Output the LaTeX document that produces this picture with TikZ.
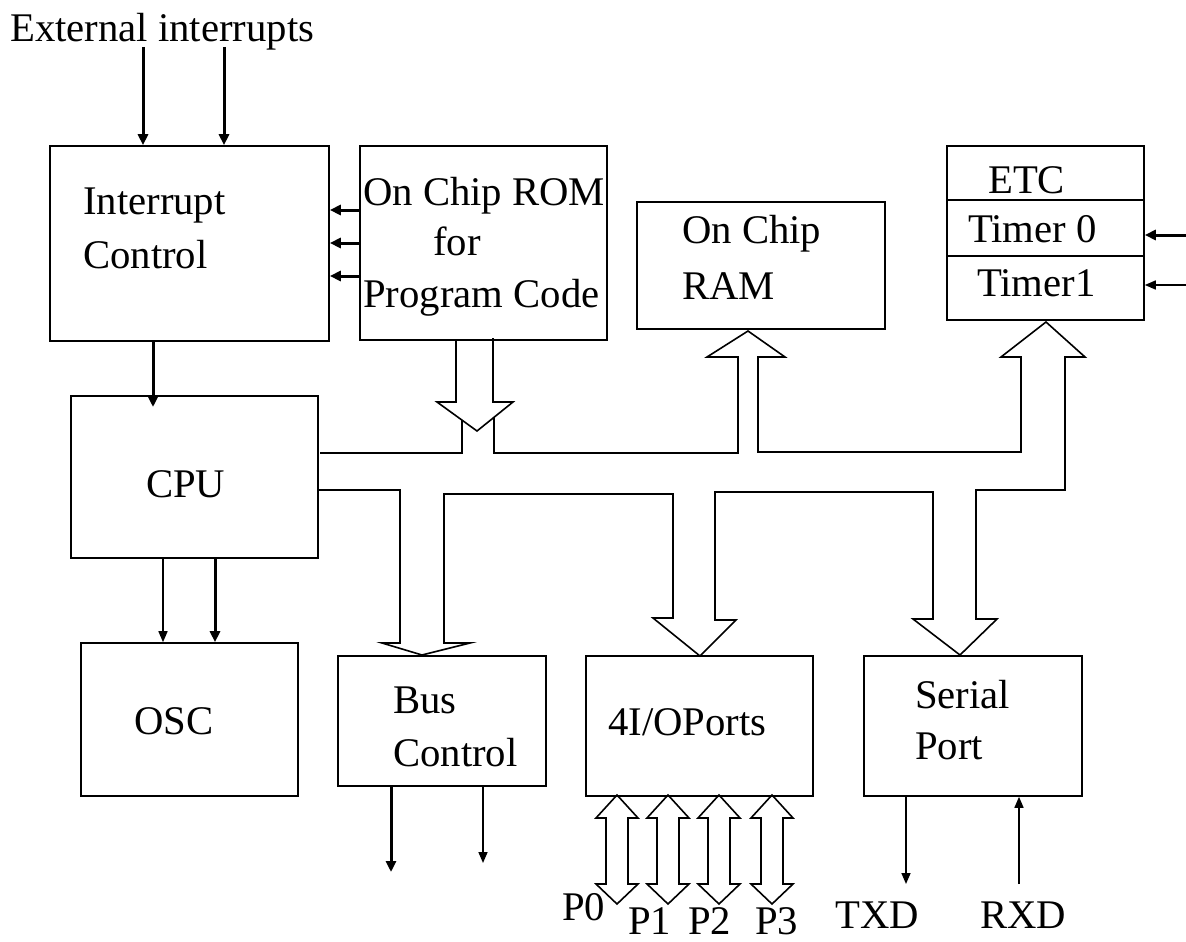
\documentclass[tikz,border=0pt]{standalone}
\usepackage{fontspec}
\setmainfont{Liberation Serif}
\usetikzlibrary{arrows.meta}
\begin{document}
\begin{tikzpicture}[x=1pt,y=-1pt,
  box/.style={draw, line width=1.6pt, inner sep=0pt},
  txt/.style={inner sep=0pt, anchor=base west, font=\fontsize{40.7}{48}\selectfont},
  thinarr/.style={line width=1.6pt, -{Triangle[width=9pt,length=11pt]}},
  thickarr/.style={line width=3pt, -{Triangle[width=10pt,length=11pt]}},
  bus/.style={line width=1.6pt, line join=miter}]
\useasboundingbox (0,0) rectangle (1186,942);
\fill[white] (0,0) rectangle (1186,942);

% boxes
\node[box, minimum width=279pt, minimum height=195pt] (ic) at (189.5,243.5) {};
\node[box, minimum width=247pt, minimum height=194pt] (rom) at (483.5,243) {};
\node[box, minimum width=248pt, minimum height=127pt] (ram) at (761,265.5) {};
\node[box, minimum width=197pt, minimum height=174pt] (etc) at (1045.5,233) {};
\draw[line width=1.6pt] (etc.west |- 0,200) coordinate (d1) -- (etc.east |- d1);
\draw[line width=1.6pt] (etc.west |- 0,256) coordinate (d2) -- (etc.east |- d2);
\node[box, minimum width=247pt, minimum height=162pt] (cpu) at (194.5,477) {};
\node[box, minimum width=217pt, minimum height=153pt] (osc) at (189.5,719.5) {};
\node[box, minimum width=208pt, minimum height=130pt] (bc) at (442,721) {};
\node[box, minimum width=227pt, minimum height=140pt] (io) at (699.5,726) {};
\node[box, minimum width=218pt, minimum height=140pt] (ser) at (973,726) {};

% texts
\node[txt] (ext) at (10,42) {External interrupts};
\node[txt] (ic1) at (83,214) {Interrupt};
\node[txt] (ic2) at (83,268) {Control};
\node[txt] (rom1) at (363,205) {On Chip ROM};
\node[txt] (rom2) at (433,255) {for};
\node[txt] (rom3) at (363,307) {Program Code};
\node[txt] (ram1) at (682,243) {On Chip};
\node[txt] (ram2) at (682,299) {RAM};
\node[txt] (etc1) at (988,193) {ETC};
\node[txt] (t0) at (968,242) {Timer 0};
\node[txt] (t1) at (977,296) {Timer1};
\node[txt] (cput) at (146,497) {CPU};
\node[txt] (osct) at (134,734) {OSC};
\node[txt] (bc1) at (393,713) {Bus};
\node[txt] (bc2) at (393,766) {Control};
\node[txt] (iot) at (608,735) {4I/OPorts};
\node[txt] (ser1) at (915,708) {Serial};
\node[txt] (ser2) at (915,759) {Port};
\node[txt] (p0) at (562,920) {P0};
\node[txt] (p1) at (628,934) {P1};
\node[txt] (p2) at (688,934) {P2};
\node[txt] (p3) at (755,934) {P3};
\node[txt] (txd) at (835,928) {TXD};
\node[txt] (rxd) at (980,928) {RXD};

% external interrupts
\coordinate (e1) at (143,47);
\coordinate (e2) at (224,47);
\draw[thickarr] (e1) -- (e1 |- ic.north);
\draw[thickarr] (e2) -- (e2 |- ic.north);

% ROM -> interrupt control
\foreach \yy/\nm in {210/ra,243/rb,276/rc}{
  \coordinate (\nm) at (rom.west |- 0,\yy);
  \draw[thickarr] (\nm) -- (ic.east |- \nm);
}

% interrupt control -> CPU
\coordinate (icb) at (153,407);
\draw[thickarr] (ic.south -| icb) -- (icb);

% CPU -> OSC
\coordinate (c1) at (163,0);
\coordinate (c2) at (215,0);
\draw[thinarr] (cpu.south -| c1) -- (osc.north -| c1);
\draw[thickarr] (cpu.south -| c2) -- (osc.north -| c2);

% Bus control outputs
\coordinate (b1) at (391,872);
\coordinate (b2) at (483,863);
\draw[thickarr] (bc.south -| b1) -- (b1);
\draw[thinarr] (bc.south -| b2) -- (b2);

% serial
\coordinate (tx) at (906,884);
\coordinate (rx) at (1019,884);
\draw[thinarr] (ser.south -| tx) -- (tx);
\draw[thinarr] (rx) -- (ser.south -| rx);

% timer inputs
\coordinate (ti0) at (1186,235);
\coordinate (ti1) at (1186,285);
\draw[thickarr] (ti0) -- (etc.east |- ti0);
\draw[thinarr] (ti1) -- (etc.east |- ti1);

% ROM down arrow
\draw[bus] (456,341) -- (456,402) -- (437,402) -- (477,431) -- (513,402) -- (493,402) -- (493,338);
% internal bus, upper left part
\draw[bus] (320,453) -- (462,453) -- (462,420);
% internal bus, big outline
\draw[bus] (494,417) -- (494,453) -- (738,453) -- (738,357) -- (707,357) -- (748,331)
  -- (785,357) -- (758,357) -- (758,452) -- (1021,452) -- (1021,357) -- (1001,357)
  -- (1046,322) -- (1085,357) -- (1065,357) -- (1065,490) -- (976,490) -- (976,619)
  -- (997,619) -- (960,655) -- (913,619) -- (933,619) -- (933,492) -- (715,492)
  -- (715,620) -- (736,620) -- (700,656) -- (653,618) -- (673,618) -- (673,494)
  -- (444,494) -- (444,643) -- (470,643) -- (422,655) -- (382,643) -- (400,643)
  -- (400,490) -- (318,490);

% port double arrows
\foreach \c in {617,668,719,772}{
  \draw[bus] (\c,795) -- (\c+21,818) -- (\c+11,818) -- (\c+11,884) -- (\c+21,884)
    -- (\c,904) -- (\c-21,884) -- (\c-11,884) -- (\c-11,818) -- (\c-21,818) -- cycle;
}
\end{tikzpicture}
\end{document}
